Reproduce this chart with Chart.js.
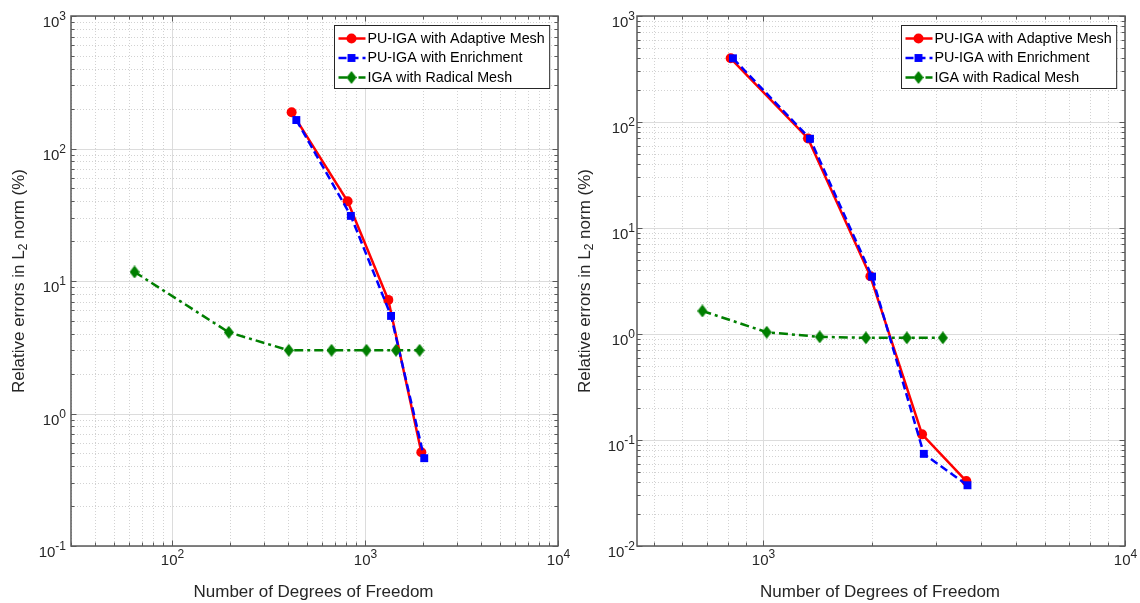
<!DOCTYPE html>
<html>
<head>
<meta charset="utf-8">
<script src="https://cdn.jsdelivr.net/npm/chart.js@4.4.1/dist/chart.umd.min.js"></script>
<style>
  html, body { margin: 0; padding: 0; background: #fff; }
  #wrap { position: relative; width: 1140px; height: 603px; overflow: hidden; }
  canvas { position: absolute; top: 0; }
</style>
</head>
<body>
<div id="wrap">
  <canvas id="leftChart" width="570" height="603" style="left:0"></canvas>
  <canvas id="rightChart" width="570" height="603" style="left:570px"></canvas>
</div>
<script>
// series names
const seriesLabels = ['PU-IGA with Adaptive Mesh', 'PU-IGA with Enrichment', 'IGA with Radical Mesh'];

// left panel
const leftAdaptiveDof = [417, 813, 1321, 1959];
const leftAdaptiveErr = [188, 40, 7.2, 0.51];
const leftEnrichDof = [441, 845, 1365, 2028];
const leftEnrichErr = [164, 31, 5.45, 0.46];
const leftRadicalDof = [64, 197, 403, 671, 1018, 1449, 1919];
const leftRadicalErr = [11.7, 4.1, 3.0, 3.0, 3.0, 3.0, 3.0];
const leftXRange = [30, 10000];
const leftYRange = [0.1, 1000];

// right panel
const rightAdaptiveDof = [816, 1334, 1983, 2754, 3648];
const rightAdaptiveErr = [399, 70, 3.5, 0.113, 0.041];
const rightEnrichDof = [828, 1351, 2004, 2785, 3675];
const rightEnrichErr = [399, 69.5, 3.48, 0.074, 0.0374];
const rightRadicalDof = [682, 1026, 1437, 1927, 2500, 3142];
const rightRadicalErr = [1.65, 1.04, 0.94, 0.92, 0.92, 0.92];
const rightXRange = [450, 10000];
const rightYRange = [0.01, 1000];

const xTitle = 'Number of Degrees of Freedom';
const yTitleParts = ['Relative errors in L', '2', ' norm (%)'];

const FONT = '"Liberation Sans", Arial, Helvetica, sans-serif';
const TXT = '#262626';

// tall diamond like matlab's 'd' marker
function diamondImage(w, h, color) {
  const c = document.createElement('canvas');
  c.width = w; c.height = h;
  const g = c.getContext('2d');
  g.beginPath();
  g.moveTo(w / 2, 0); g.lineTo(w, h / 2); g.lineTo(w / 2, h); g.lineTo(0, h / 2);
  g.closePath();
  g.fillStyle = color;
  g.fill();
  return c;
}
const diamond = diamondImage(10, 13, '#007f00');

const styles = [
  { color: '#ff0000', dash: [], point: 'circle', r: 5 },
  { color: '#0000ff', dash: [8, 4], point: 'rect', r: 5.6 },
  { color: '#007f00', dash: [9, 4, 3, 4], point: diamond, r: 6 }
];

function logTicks(min, max) {
  const out = [];
  for (let e = Math.floor(Math.log10(min)); e <= Math.ceil(Math.log10(max)); e++) {
    for (let k = 1; k <= 9; k++) {
      const v = k * Math.pow(10, e);
      if (v >= min * 0.9999 && v <= max * 1.0001) out.push({ v, major: k === 1, e });
    }
  }
  return out;
}

function drawMarker(ctx, style, x, y, r, color) {
  if (typeof style !== 'string') {
    ctx.drawImage(style, x - style.width / 2, y - style.height / 2);
    return;
  }
  ctx.beginPath();
  if (style === 'circle') {
    ctx.arc(x, y, r, 0, Math.PI * 2);
  } else {
    const s = r * Math.SQRT1_2;
    ctx.rect(x - s, y - s, 2 * s, 2 * s);
  }
  ctx.fillStyle = color;
  ctx.fill();
}

function drawPower(ctx, e, x, baseY, align) {
  ctx.font = '15px ' + FONT;
  const wb = ctx.measureText('10').width;
  ctx.font = '12px ' + FONT;
  const exp = String(e);
  const we = ctx.measureText(exp).width;
  const left = align === 'center' ? x - (wb + we) / 2 : x - (wb + we);
  ctx.fillStyle = TXT;
  ctx.textAlign = 'left';
  ctx.textBaseline = 'alphabetic';
  ctx.font = '15px ' + FONT;
  ctx.fillText('10', left, baseY);
  ctx.font = '12px ' + FONT;
  ctx.fillText(exp, left + wb, baseY - 7);
}

const axesPlugin = {
  id: 'matlabAxes',
  beforeDatasetsDraw(chart) {
    const { ctx, chartArea: a, scales: { x, y } } = chart;
    ctx.save();
    ctx.lineWidth = 1;
    logTicks(x.min, x.max).forEach(t => {
      const px = Math.round(x.getPixelForValue(t.v)) + 0.5;
      ctx.strokeStyle = t.major ? '#dcdcdc' : '#d2d2d2';
      ctx.setLineDash(t.major ? [] : [1, 2]);
      ctx.beginPath(); ctx.moveTo(px, a.top); ctx.lineTo(px, a.bottom); ctx.stroke();
    });
    logTicks(y.min, y.max).forEach(t => {
      const py = Math.round(y.getPixelForValue(t.v)) + 0.5;
      ctx.strokeStyle = t.major ? '#dcdcdc' : '#d2d2d2';
      ctx.setLineDash(t.major ? [] : [1, 2]);
      ctx.beginPath(); ctx.moveTo(a.left, py); ctx.lineTo(a.right, py); ctx.stroke();
    });
    ctx.restore();
  },
  afterDatasetsDraw(chart, args, opts) {
    const { ctx, chartArea: a, scales: { x, y } } = chart;
    ctx.save();
    // box
    ctx.strokeStyle = '#5a5a5a';
    ctx.lineWidth = 1.5;
    ctx.setLineDash([]);
    ctx.strokeRect(a.left, a.top, a.right - a.left, a.bottom - a.top);
    // inward ticks on all sides
    ctx.lineWidth = 1;
    logTicks(x.min, x.max).forEach(t => {
      const px = Math.round(x.getPixelForValue(t.v)) + 0.5;
      const len = t.major ? 5.5 : 3.5;
      ctx.beginPath();
      ctx.moveTo(px, a.bottom); ctx.lineTo(px, a.bottom - len);
      ctx.moveTo(px, a.top); ctx.lineTo(px, a.top + len);
      ctx.stroke();
      if (t.major) drawPower(ctx, t.e, px, a.bottom + 19, 'center');
    });
    logTicks(y.min, y.max).forEach(t => {
      const py = Math.round(y.getPixelForValue(t.v)) + 0.5;
      const len = t.major ? 5.5 : 3.5;
      ctx.beginPath();
      ctx.moveTo(a.left, py); ctx.lineTo(a.left + len, py);
      ctx.moveTo(a.right, py); ctx.lineTo(a.right - len, py);
      ctx.stroke();
      if (t.major) drawPower(ctx, t.e, a.left - opts.labelGap, py + 10, 'right');
    });
    // x title
    ctx.fillStyle = TXT;
    ctx.font = '17px ' + FONT;
    ctx.textAlign = 'center';
    ctx.textBaseline = 'alphabetic';
    ctx.fillText(xTitle, (a.left + a.right) / 2 - 1, a.bottom + 51);
    // y title with subscript
    const f1 = '17px ' + FONT, f2 = '12px ' + FONT;
    ctx.font = f1;
    const w0 = ctx.measureText(yTitleParts[0]).width;
    const w2 = ctx.measureText(yTitleParts[2]).width;
    ctx.font = f2;
    const w1 = ctx.measureText(yTitleParts[1]).width;
    const total = w0 + w1 + w2;
    ctx.translate(opts.yTitleX, (a.top + a.bottom) / 2);
    ctx.rotate(-Math.PI / 2);
    ctx.textAlign = 'left';
    ctx.textBaseline = 'middle';
    let cx = -total / 2;
    ctx.font = f1; ctx.fillText(yTitleParts[0], cx, 0); cx += w0;
    ctx.font = f2; ctx.fillText(yTitleParts[1], cx, 5); cx += w1;
    ctx.font = f1; ctx.fillText(yTitleParts[2], cx, 0);
    ctx.restore();

    // legend box
    ctx.save();
    ctx.font = '14.3px ' + FONT;
    const textW = Math.max(...chart.data.datasets.map(d => ctx.measureText(d.label).width));
    const bw = 33 + textW + 5, bh = 63;
    const bx = Math.round(a.right - 9 - bw) + 0.5, by = Math.round(a.top + 9) + 0.5;
    ctx.fillStyle = '#fff';
    ctx.fillRect(bx, by, bw, bh);
    ctx.strokeStyle = '#262626';
    ctx.lineWidth = 1;
    ctx.strokeRect(bx, by, bw, bh);
    chart.data.datasets.forEach((d, i) => {
      const s = styles[i];
      const ry = by + 13 + i * 19.5;
      ctx.strokeStyle = s.color;
      ctx.lineWidth = 2.5;
      ctx.setLineDash(s.dash);
      ctx.beginPath(); ctx.moveTo(bx + 4, ry); ctx.lineTo(bx + 31, ry); ctx.stroke();
      ctx.setLineDash([]);
      drawMarker(ctx, s.point, bx + 17, ry, s.r, s.color);
      ctx.fillStyle = '#000';
      ctx.textAlign = 'left';
      ctx.textBaseline = 'middle';
      ctx.fillText(d.label, bx + 33, ry + 0.5);
    });
    ctx.restore();
  }
};

function makeSeries(i, xs, ys) {
  const s = styles[i];
  return {
    label: seriesLabels[i],
    data: xs.map((v, k) => ({ x: v, y: ys[k] })),
    borderColor: s.color,
    backgroundColor: s.color,
    borderWidth: 2.5,
    borderDash: s.dash,
    pointStyle: s.point,
    pointRadius: s.r,
    pointHoverRadius: s.r,
    pointBorderWidth: 0,
    tension: 0,
    fill: false,
    order: 3 - i
  };
}

function makeChart(id, datasets, xr, yr, pad, yTitleX, labelGap) {
  return new Chart(document.getElementById(id), {
    type: 'line',
    data: { datasets },
    plugins: [axesPlugin],
    options: {
      responsive: false,
      animation: false,
      devicePixelRatio: 1,
      layout: { padding: pad },
      plugins: {
        legend: { display: false },
        tooltip: { enabled: false },
        matlabAxes: { yTitleX, labelGap }
      },
      scales: {
        x: {
          type: 'logarithmic', min: xr[0], max: xr[1],
          ticks: { display: false }, grid: { display: false }, border: { display: false },
          afterFit: s => { s.height = 0; }
        },
        y: {
          type: 'logarithmic', min: yr[0], max: yr[1],
          ticks: { display: false }, grid: { display: false }, border: { display: false },
          afterFit: s => { s.width = 0; }
        }
      }
    }
  });
}

makeChart('leftChart', [
  makeSeries(0, leftAdaptiveDof, leftAdaptiveErr),
  makeSeries(1, leftEnrichDof, leftEnrichErr),
  makeSeries(2, leftRadicalDof, leftRadicalErr)
], leftXRange, leftYRange, { left: 71, right: 12, top: 16, bottom: 57 }, 19, 5);

makeChart('rightChart', [
  makeSeries(0, rightAdaptiveDof, rightAdaptiveErr),
  makeSeries(1, rightEnrichDof, rightEnrichErr),
  makeSeries(2, rightRadicalDof, rightRadicalErr)
], rightXRange, rightYRange, { left: 67, right: 15, top: 16, bottom: 57 }, 15, 2);
</script>
</body>
</html>
